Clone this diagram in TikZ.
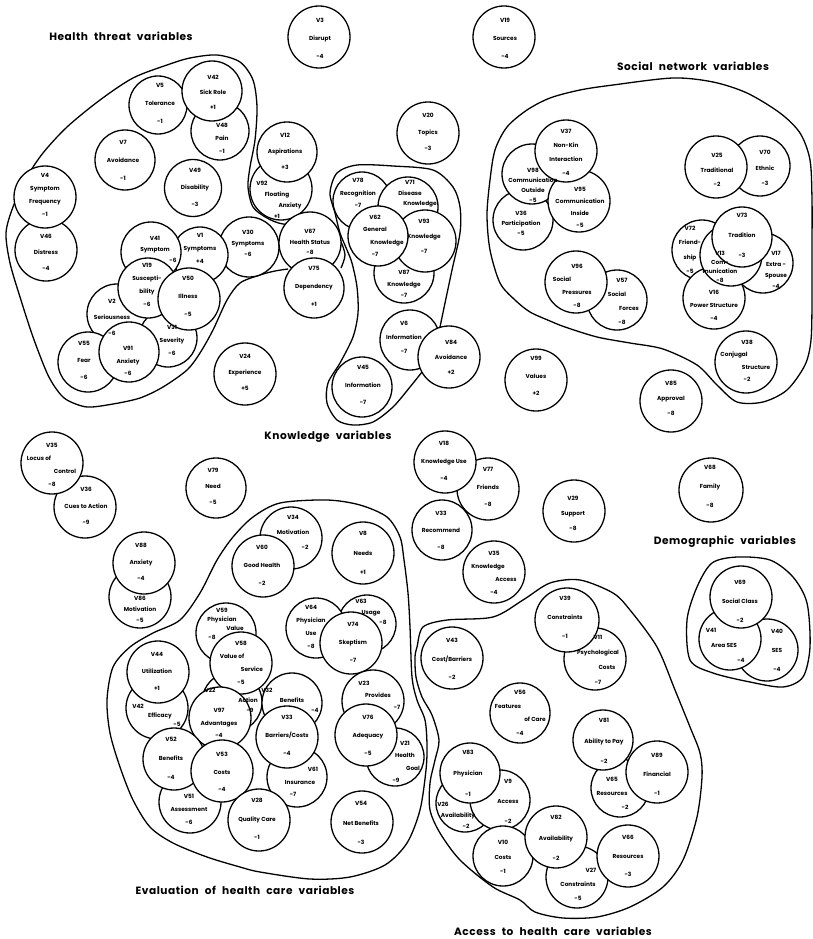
\documentclass[tikz,border=0pt]{standalone}
\usepackage{fontspec}
\setmainfont{Poppins}
\newfontfamily\ttlfont{Poppins}[LetterSpace=5,WordSpace=2.2]
\tikzset{
 vc/.style={circle, draw, fill=white, line width=1.3pt, inner sep=0pt},
 lbl/.style={align=center, inner sep=0pt},
 outl/.style={line width=1.3pt},
 ttl/.style={font=\ttlfont\bfseries\fontsize{10.6}{12}\selectfont, inner sep=0pt}
}
\newcommand\C[4]{\node[vc, minimum size=#4pt] (c#1) at (#2,#3) {};}
\newcommand\T[5]{\node[lbl, font=\fontsize{5.8}{#4}\selectfont\bfseries] (t#1) at (#2,#3) {#5};}
\newcommand\sh[1]{\hspace*{#1pt}}
\begin{document}
\begin{tikzpicture}[x=1pt,y=-1pt]
\useasboundingbox (0,0) rectangle (813,939);
% ---------- outlines ----------
\draw[outl] plot[smooth, tension=0.5] coordinates {(288,269) (275,271) (260,275) (240,283) (227,300) (213,330) (200,353) (187,370) (163,387) (140,398) (113,404) (87,407) (67,400) (57,390) (47,373) (33,337) (20,297) (10,263) (6,233) (13,207) (27,177) (43,153) (67,127) (100,100) (133,78) (167,65) (190,58) (217,55) (240,62) (253,80) (257,107) (255,140) (250,167) (248,187) (253,207) (267,218) (283,224) (310,225) (330,228) (340,240) (345,255) (341,268)};
\draw[outl] plot[smooth, tension=0.5] coordinates {(440,327) (445,303) (452,270) (460,233) (460,207) (453,187) (433,170) (393,166) (357,165) (337,173) (330,193) (335,213) (340,233) (347,250) (352,263) (357,287) (358,313) (353,337) (340,363) (328,383) (327,403) (337,420) (353,425) (373,422) (393,407) (410,387) (422,372)};
\draw[outl] plot[smooth cycle, tension=0.5] coordinates {(490,250) (487,215) (490,180) (495,150) (507,127) (527,110) (550,98) (580,90) (613,85) (673,78) (713,82) (747,93) (780,113) (800,133) (810,160) (812,200) (812,250) (812,300) (811,340) (805,365) (787,390) (763,402) (737,402) (717,385) (697,365) (663,349) (630,343) (597,337) (565,327) (550,321) (530,312) (515,300) (500,283)};
\draw[outl] plot[smooth cycle, tension=0.5] coordinates {(280,503) (327,500) (360,505) (387,517) (400,537) (404,560) (408,593) (410,627) (412,677) (417,700) (425,720) (427,745) (426,770) (420,810) (407,843) (385,865) (350,877) (310,879) (260,872) (240,867) (207,857) (173,843) (150,827) (133,800) (120,767) (110,733) (107,700) (113,667) (130,647) (153,633) (180,620) (200,593) (217,560) (233,537) (253,517)};
\draw[outl] plot[smooth cycle, tension=0.5] coordinates {(417,647) (423,627) (447,620) (493,617) (523,600) (550,583) (580,580) (613,593) (630,610) (657,647) (675,690) (690,727) (700,753) (702,777) (697,817) (683,860) (663,887) (630,907) (597,917) (563,918) (535,912) (520,900) (493,887) (460,860) (440,833) (430,810) (430,783) (435,760) (439,740) (432,715) (422,697) (416,677) (415,657)};
\draw[outl] plot[smooth cycle, tension=0.5] coordinates {(690,660) (687,620) (697,587) (712,563) (737,557) (770,560) (793,577) (807,603) (810,647) (803,677) (783,687) (750,682) (713,673)};
% ---------- circles (back to front) ----------
\C{5}{158}{105}{58} \C{48}{220}{131}{58} \C{42}{212}{91}{60}
\C{7}{125}{160}{60} \C{49}{193}{188}{57} \C{46}{46}{250}{62} \C{4}{45}{197}{62}
\C{30}{249}{247}{60} \C{1}{200}{255}{56} \C{41}{151}{252}{60}
\C{2}{117}{314}{60} \C{55}{88}{362}{60} \C{31}{168}{338}{58} \C{91}{129}{352}{60}
\C{19}{148}{288}{60} \C{50}{189}{299}{62}
\C{92}{281}{189}{62} \C{12}{287}{152}{60} \C{67}{310}{243}{62} \C{75}{314}{288}{60}
\C{3}{319}{37}{62} \C{19s}{504}{37}{62} \C{20}{428}{133}{62} \C{24}{245}{374}{62}
\C{78}{362}{201}{58} \C{71}{408}{207}{60} \C{87}{404}{273}{60} \C{93}{425}{241}{62} \C{62}{378}{236}{60}
\C{6}{410}{340}{60} \C{84}{449}{357}{62} \C{45}{362}{387}{60} \C{99}{536}{380}{62}
\C{36}{523}{220}{60} \C{98}{532}{174}{60} \C{95}{579}{201}{62} \C{37}{566}{151}{62}
\C{70}{760}{166}{60} \C{25}{716}{167}{62}
\C{72}{702}{250}{60} \C{17}{763}{263}{60} \C{16}{714}{298}{62} \C{13}{731}{255}{62} \C{73}{742}{237}{60}
\C{57}{617}{300}{60} \C{96}{576}{282}{62} \C{38}{746}{362}{62} \C{85}{671}{401}{62}
\C{36c}{85}{507}{62} \C{35}{52}{463}{62} \C{79}{216}{488}{60}
\C{86}{140}{597}{62} \C{88}{144}{563}{62}
\C{77}{488}{489}{62} \C{18}{445}{462}{62} \C{33r}{442}{530}{60} \C{15}{494}{572}{62}
\C{29}{574}{511}{62} \C{68}{711}{490}{64}
\C{40}{767}{650}{62} \C{41d}{730}{639}{62} \C{69}{741}{597}{62}
\C{34}{291}{538}{62} \C{60}{263}{566}{62} \C{8}{363}{553}{62}
\C{63}{367}{624}{58} \C{64}{316}{628}{60} \C{74}{351}{643}{62}
\C{59}{226}{633}{60} \C{22}{232}{702}{60} \C{58}{241}{663}{62} \C{97}{220}{718}{62}
\C{42e}{157}{708}{62} \C{44}{158}{672}{62}
\C{51}{190}{802}{62} \C{52}{174}{759}{62} \C{53}{222}{771}{62}
\C{32}{292}{703}{60} \C{61}{297}{777}{60} \C{33b}{287}{737}{62} \C{28}{259}{820}{62}
\C{23}{373}{701}{62} \C{21}{395}{757}{58} \C{76}{366}{735}{62} \C{54}{362}{822}{62}
\C{11}{595}{659}{62} \C{39}{567}{620}{64} \C{43}{452}{658}{62} \C{56}{520}{713}{60}
\C{65}{620}{788}{58} \C{81}{603}{740}{60} \C{89}{657}{772}{62}
\C{26}{465}{803}{58} \C{9}{500}{800}{60} \C{83}{470}{773}{60} \C{10}{503}{856}{60}
\C{27}{577}{877}{62} \C{82}{556}{837}{62} \C{66}{628}{856}{62}
% ---------- texts ----------
\T{5}{160}{103}{18}{V5\\Tolerance\\-1}
\T{42}{213}{92}{15}{V42\\Sick Role\\+1}
\T{48}{222}{138}{13}{V48\\Pain\\-1}
\T{7}{123}{160}{18}{V7\\Avoidance\\-1}
\T{49}{195}{187}{17}{V49\\Disability\\-3}
\T{4}{45}{195}{13}{V4\\Symptom\\Frequency\\-1}
\T{46}{46}{252}{16}{V46\\Distress\\-4}
\T{41}{155}{249}{11}{V41\\Symptom\\\sh{36}-6}
\T{1}{200}{248}{13}{V1\\Symptoms\\+4}
\T{30}{248}{243}{11}{V30\\Symptoms\\-6}
\T{19}{147}{285}{13}{V19\\Suscepti-\\bility\\-6}
\T{50}{188}{296}{18}{V50\\Illness\\-5}
\T{2}{112}{317}{16}{V2\\Seriousness\\-6}
\T{31}{172}{340}{13}{V31\\Severity\\-6}
\T{55}{84}{360}{17}{V55\\Fear\\-6}
\T{91}{128}{361}{12.5}{V91\\Anxiety\\-6}
\T{24}{245}{372}{16}{V24\\Experience\\+5}
\T{12}{285}{151}{16}{V12\\Aspirations\\+3}
\T{92}{277}{200}{11}{\sh{-30}V92\\Floating\\\sh{26}Anxiety\\+1}
\T{67}{310}{242}{10.5}{V67\\Health Status\\-8}
\T{75}{314}{286}{18}{V75\\Dependency\\+1}
\T{3}{320}{38}{18}{V3\\Disrupt\\-4}
\T{19s}{505}{38}{18}{V19\\Sources\\-4}
\T{20}{428}{132}{16.5}{V20\\Topics\\-3}
\T{78}{358}{193}{12.5}{V78\\Recognition\\-7}
\T{71}{410}{194}{10.5}{V71\\Disease\\\sh{20}Knowledge}
\T{62}{375}{236}{12.5}{V62\\General\\\sh{24}Knowledge\\-7}
\T{93}{424}{236}{15}{V93\\Knowledge\\-7}
\T{87}{404}{284}{11.5}{V87\\Knowledge\\-7}
\T{6}{404}{337}{14}{V6\\Information\\-7}
\T{84}{451}{357}{15}{V84\\Avoidance\\+2}
\T{45}{363}{385}{17.5}{V45\\Information\\-7}
\T{99}{536}{376}{17.5}{V99\\Values\\+2}
\T{37}{566}{152}{14}{V37\\Non-Kin\\Interaction\\-4}
\T{98}{533}{185}{10}{V98\\Communication\\Outside\\-5}
\T{95}{580}{207}{12}{V95\\Communication\\Inside\\-5}
\T{36}{521}{223}{10}{V36\\Participation\\-5}
\T{25}{717}{170}{14.5}{V25\\Traditional\\-2}
\T{70}{765}{168}{15.5}{V70\\Ethnic\\-3}
\T{73}{742}{235}{20}{V73\\Tradition\\-3}
\T{72}{690}{250}{14.5}{V72\\Friend-\\ship\\-5}
\T{13}{720}{267}{9}{V13\\Com-\\munication\\-8}
\T{17}{776}{270}{11}{V17\\Extra -\\Spouse\\-4}
\T{16}{714}{305}{13}{V16\\Power Structure\\-4}
\T{96}{577}{286}{13}{V96\\\sh{-30}Social\\Pressures\\-8}
\T{57}{622}{301}{14}{V57\\\sh{-10}Social\\\sh{14}Forces\\-8}
\T{38}{747}{361}{12.5}{V38\\\sh{-26}Conjugal\\\sh{18}Structure\\-2}
\T{85}{671}{398}{15}{V85\\Approval\\-8}
\T{68}{710}{486}{19}{V68\\Family\\-8}
\T{35}{52}{465}{13}{V35\\\sh{-26}Locus of\\\sh{26}Control\\-8}
\T{36c}{86}{506}{16.5}{V36\\Cues to Action\\-9}
\T{79}{213}{486}{16}{V79\\Need\\-5}
\T{88}{141}{562}{16.5}{V88\\Anxiety\\-4}
\T{86}{140}{609}{11}{V86\\Motivation\\-5}
\T{18}{444}{461}{17.5}{V18\\Knowledge Use\\-4}
\T{77}{488}{487}{17.5}{V77\\Friends\\-8}
\T{33r}{441}{530}{17}{V33\\Recommend\\-8}
\T{15}{494}{573}{13}{V35\\\sh{-12}Knowledge\\\sh{24}Access\\-4}
\T{29}{573}{513}{15}{V29\\Support\\-8}
\T{69}{740}{601}{19}{V69\\Social Class\\-2}
\T{41d}{724}{645}{15}{\sh{-26}V41\\Area SES\\\sh{34}-4}
\T{40}{777}{650}{19}{V40\\SES\\-4}
\T{34}{293}{532}{15}{V34\\Motivation\\\sh{24}-2}
\T{60}{262}{565}{18}{V60\\Good Health\\-2}
\T{8}{363}{553}{19.5}{V8\\Needs\\+1}
\T{59}{222}{624}{9}{V59\\Physician\\\sh{26}Value\\\sh{-20}-8}
\T{58}{241}{663}{13}{V58\\\sh{-18}Value of\\\sh{22}Service\\-5}
\T{44}{157}{671}{17}{V44\\Utilization\\+1}
\T{42e}{160}{715}{9}{\sh{-44}V42\\Efficacy\\\sh{34}-5}
\T{22}{230}{700}{10}{\sh{-40}V22\\\sh{36}Action\\\sh{40}-9}
\T{97}{219}{723}{12.5}{V97\\Advantages\\-4}
\T{32}{292}{700}{10}{\sh{-50}V32\\Benefits\\\sh{46}-4}
\T{33b}{287}{735}{18}{V33\\Barriers/Costs\\-4}
\T{61}{300}{782}{12.5}{\sh{26}V61\\Insurance\\\sh{-14}-7}
\T{64}{311}{627}{13}{V64\\Physician\\Use\\-8}
\T{63}{371}{612}{10.5}{\sh{-20}V63\\Usage\\\sh{24}-8}
\T{74}{353}{642}{18}{V74\\Skeptism\\-7}
\T{23}{378}{695}{12}{\sh{-28}V23\\Provides\\\sh{38}-7}
\T{76}{368}{735}{18}{V76\\Adequacy\\-5}
\T{21}{405}{762}{12.5}{V21\\Health\\\sh{16}Goal\\\sh{-18}-9}
\T{52}{171}{758}{19}{V52\\Benefits\\-4}
\T{53}{222}{772}{17.5}{V53\\Costs\\-4}
\T{51}{189}{809}{13}{V51\\Assessment\\-6}
\T{28}{257}{819}{18.5}{V28\\Quality Care\\-1}
\T{54}{361}{823}{19.5}{V54\\Net Benefits\\-3}
\T{39}{565}{617}{19}{V39\\Constraints\\-1}
\T{11}{598}{660}{15}{V11\\Psychological\\\sh{18}Costs\\-7}
\T{43}{452}{659}{18.5}{V43\\Cost/Barriers\\-2}
\T{56}{520}{713}{13.5}{V56\\\sh{-24}Features\\\sh{30}of Care\\-4}
\T{81}{604}{741}{20.5}{V81\\Ability to Pay\\-2}
\T{65}{612}{793}{14}{V65\\Resources\\\sh{26}-2}
\T{89}{657}{774}{19}{V89\\Financial\\-1}
\T{83}{468}{773}{21}{V83\\Physician\\-1}
\T{9}{508}{801}{20}{V9\\Access\\-2}
\T{26}{458}{815}{11}{\sh{-30}V26\\Availability\\\sh{16}-2}
\T{10}{503}{857}{14.5}{V10\\Costs\\-1}
\T{82}{556}{838}{20.5}{V82\\Availability\\-2}
\T{27}{578}{884}{14}{\sh{26}V27\\Constraints\\-5}
\T{66}{628}{856}{18.5}{V66\\Resources\\-3}
% ---------- titles ----------
\node[ttl] (tHealth) at (121,36) {Health threat variables};
\node[ttl] (tSocial) at (693,66) {Social network variables};
\node[ttl] (tKnow) at (328,437) {Knowledge variables};
\node[ttl] (tDemo) at (725,542) {Demographic variables};
\node[ttl] (tEval) at (245,890) {Evaluation of health care variables};
\node[ttl] (tAccess) at (553,931) {Access to health care variables};
\end{tikzpicture}
\end{document}
